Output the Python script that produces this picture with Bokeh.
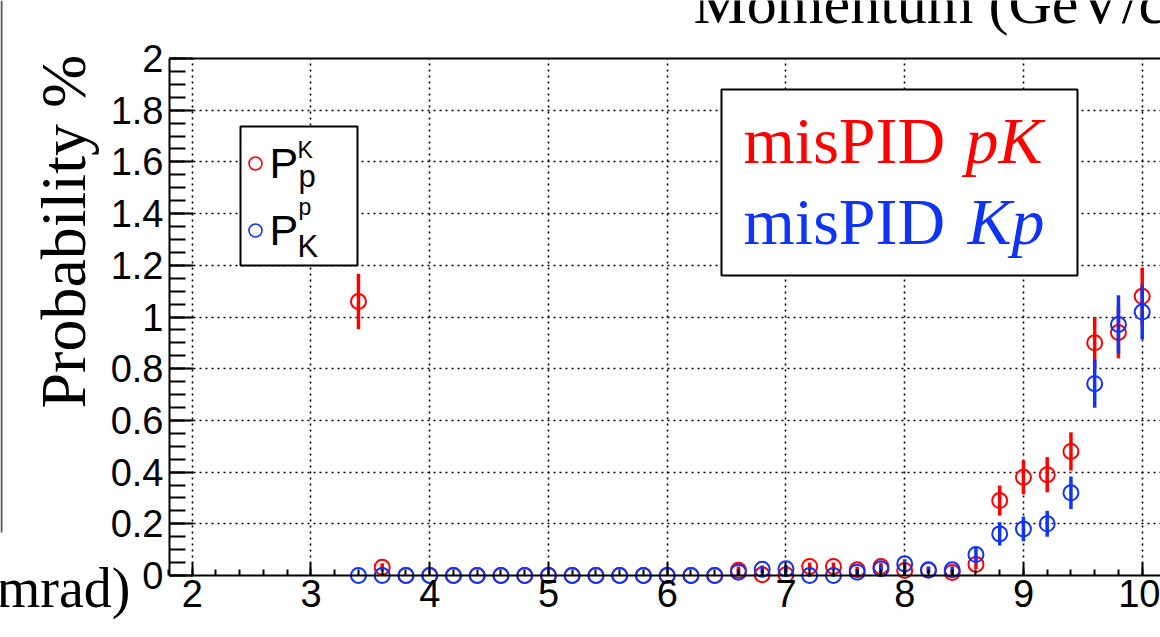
import numpy as np
from bokeh.plotting import figure
from bokeh.models import (Range1d, FixedTicker, LinearAxis, Grid, ColumnDataSource,
                          BoxAnnotation, Label)
from bokeh.embed import file_html
from bokeh.resources import INLINE

# ---- data: mis-identification probability (%) vs momentum (GeV/c) ----
momentum = [3.4, 3.6, 3.8, 4.0, 4.2, 4.4, 4.6, 4.8, 5.0, 5.2, 5.4, 5.6, 5.8, 6.0,
            6.2, 6.4, 6.6, 6.8, 7.0, 7.2, 7.4, 7.6, 7.8, 8.0, 8.2, 8.4, 8.6, 8.8,
            9.0, 9.2, 9.4, 9.6, 9.8, 10.0]

# proton identified as kaon
prob_pK = [1.06, 0.032, 0, 0, 0, 0, 0, 0, 0, 0, 0, 0, 0, 0,
           0, 0, 0.02, 0.003, 0.003, 0.035, 0.035, 0.022, 0.035, 0.019, 0.02, 0.012, 0.043, 0.29,
           0.38, 0.39, 0.48, 0.90, 0.94, 1.08]
err_pK = [0.107, 0.015, 0, 0, 0, 0, 0, 0, 0, 0, 0, 0, 0, 0,
          0, 0, 0.015, 0.005, 0.005, 0.015, 0.015, 0.012, 0.015, 0.012, 0.012, 0.010, 0.018, 0.058,
          0.066, 0.068, 0.074, 0.100, 0.100, 0.110]

# kaon identified as proton
prob_Kp = [0, 0, 0, 0, 0, 0, 0, 0, 0, 0, 0, 0, 0, 0,
           0, 0, 0.013, 0.024, 0.026, 0.0, 0.0, 0.013, 0.026, 0.045, 0.022, 0.022, 0.081, 0.161,
           0.18, 0.20, 0.32, 0.742, 0.971, 1.019]
err_Kp = [0, 0, 0, 0, 0, 0, 0, 0, 0, 0, 0, 0, 0, 0,
          0, 0, 0.012, 0.015, 0.015, 0.005, 0.005, 0.012, 0.015, 0.018, 0.013, 0.013, 0.030, 0.045,
          0.048, 0.050, 0.063, 0.093, 0.113, 0.106]

x_ticks = [2, 3, 4, 5, 6, 7, 8, 9, 10]
x_tick_labels = ["2", "3", "4", "5", "6", "7", "8", "9", "10"]
y_ticks = [0, 0.2, 0.4, 0.6, 0.8, 1.0, 1.2, 1.4, 1.6, 1.8, 2.0]
y_tick_labels = ["0", "0.2", "0.4", "0.6", "0.8", "1", "1.2", "1.4", "1.6", "1.8", "2"]

RED = "#ff0000"
BLUE = "#1034f5"

# ---- canvas geometry ----
# The plotting frame covers the whole canvas; the axes are pinned to the
# box [X_LEFT, X_END] x [0, 2] so that titles in the margins are not clipped.
W, H = 1160, 637
PX_X2, PX_PER_X = 191.7, 118.75      # pixel column of momentum 2, pixels per GeV/c
PX_Y0, PX_PER_Y = 575.0, 258.5       # pixel row of probability 0, pixels per %
F_LEFT = 169                          # left edge of the axes box
BASE_SHIFT = 0.37                     # baseline correction, in em


def dx(px):
    return 2 + (px - PX_X2) / PX_PER_X


def dy(py):
    return (PX_Y0 - py) / PX_PER_Y


X_START, X_END = dx(0), dx(W)
Y_START, Y_END = dy(H), dy(0)
X_LEFT = dx(F_LEFT)

p = figure(width=W, height=H, x_range=Range1d(X_START, X_END), y_range=Range1d(Y_START, Y_END),
           output_backend="svg", toolbar_location=None, x_axis_type=None, y_axis_type=None,
           min_border=0)
p.outline_line_color = None
p.background_fill_color = "white"
p.border_fill_color = "white"

TICK_FONT = "Liberation Sans"
TICK_SIZE = "38px"

x_minor = [round(v, 1) for v in np.arange(1.8, 10.21, 0.2)]
xaxis = LinearAxis(ticker=FixedTicker(ticks=x_ticks, minor_ticks=x_minor),
                   fixed_location=0, bounds=(X_LEFT, X_END))
xaxis.major_label_overrides = dict(zip(x_ticks, x_tick_labels))
xaxis.axis_line_width = 2
xaxis.major_tick_in, xaxis.major_tick_out = 13, 0
xaxis.minor_tick_in, xaxis.minor_tick_out = 6, 0
xaxis.major_tick_line_width = 2
xaxis.minor_tick_line_width = 2
xaxis.major_label_standoff = 4
xaxis.major_label_text_font = TICK_FONT
xaxis.major_label_text_font_size = TICK_SIZE
xaxis.major_label_text_color = "black"
p.add_layout(xaxis, "below")

y_minor = [round(v, 2) for v in np.arange(0, 2.001, 0.05)]
yaxis = LinearAxis(ticker=FixedTicker(ticks=y_ticks, minor_ticks=y_minor),
                   fixed_location=X_LEFT, bounds=(0, 2))
yaxis.major_label_overrides = dict(zip(y_ticks, y_tick_labels))
yaxis.axis_line_width = 2
yaxis.major_tick_in, yaxis.major_tick_out = 24, 0
yaxis.minor_tick_in, yaxis.minor_tick_out = 16, 0
yaxis.major_tick_line_width = 2
yaxis.minor_tick_line_width = 2
yaxis.major_label_standoff = 6
yaxis.major_label_text_font = TICK_FONT
yaxis.major_label_text_font_size = TICK_SIZE
yaxis.major_label_text_color = "black"
p.add_layout(yaxis, "left")

# top edge of the axes box
top_axis = LinearAxis(ticker=FixedTicker(ticks=[]), fixed_location=2, bounds=(X_LEFT, X_END),
                      axis_line_width=2)
top_axis.major_label_text_font_size = "0px"
p.add_layout(top_axis, "above")

# dotted grid, limited to the axes box
xgrid = Grid(dimension=0, ticker=FixedTicker(ticks=x_ticks), grid_line_color="black",
             grid_line_dash="2 4", grid_line_width=1.6)
ygrid = Grid(dimension=1, ticker=FixedTicker(ticks=y_ticks[1:-1]), grid_line_color="black",
             grid_line_dash="2 4", grid_line_width=1.6)
xgrid.cross_bounds = (0, 2)
ygrid.cross_bounds = (X_LEFT, X_END)
p.add_layout(xgrid)
p.add_layout(ygrid)


def draw_series(vals, errs, color):
    src = ColumnDataSource(dict(
        x=momentum, y=vals,
        lo=[v - e for v, e in zip(vals, errs)],
        hi=[v + e for v, e in zip(vals, errs)]))
    p.segment(x0="x", y0="lo", x1="x", y1="hi", source=src, line_color=color, line_width=3.5)
    p.scatter(x="x", y="y", source=src, marker="circle", size=15, fill_alpha=0,
              line_color=color, line_width=2)


draw_series(prob_pK, err_pK, RED)
draw_series(prob_Kp, err_Kp, BLUE)

# ---- legend boxes ----
for l, r, t, b in [(240, 357, 126, 265), (721, 1077, 89, 275)]:
    p.add_layout(BoxAnnotation(left=dx(l), right=dx(r), top=dy(t), bottom=dy(b),
                               fill_color="white", fill_alpha=1, line_color="black",
                               line_alpha=1, line_width=2))

sym = p.scatter(x=[dx(255), dx(255)], y=[dy(163), dy(230)], marker="circle", size=13,
                fill_alpha=0, line_color=[RED, BLUE], line_width=1.6)
sym.level = "overlay"


def label(text, px, py, size, font=TICK_FONT, color="black", style="normal",
          align="left", rotated=False):
    """Place text with its baseline at pixel (px, py) of the canvas."""
    shift = BASE_SHIFT * size
    if rotated:
        x, y, angle = dx(px - shift), dy(py), np.pi / 2
    else:
        x, y, angle = dx(px), dy(py - shift), 0.0
    p.add_layout(Label(x=x, y=y, text=text, text_font=font,
                       text_font_size=f"{size}px", text_color=color, text_font_style=style,
                       text_align=align, text_baseline="alphabetic", angle=angle))


# P_p^K and P_K^p
label("P", 269, 178, 43)
label("K", 297, 158, 23)
label("p", 298, 187, 31)
label("P", 269, 245, 43)
label("p", 298, 215, 23)
label("K", 297, 257, 31)

SERIF = "Liberation Serif"
label("misPID", 743, 164, 66, font=SERIF, color=RED)
label("pK", 965, 164, 66, font=SERIF, color=RED, style="italic")
label("misPID", 743, 245, 66, font=SERIF, color=BLUE)
label("Kp", 967, 245, 66, font=SERIF, color=BLUE, style="italic")

# axis titles in the margins
label("Probability %", 87, 408, 64, font=SERIF, rotated=True)
label("Momentum (GeV/c)", 693, 25, 60, font=SERIF)
label("(mrad)", 130, 608, 56, font=SERIF, align="right")

# edge of the neighbouring panel on the left
p.add_layout(BoxAnnotation(left=dx(0), right=dx(2), top=dy(0), bottom=dy(532),
                           fill_color="#555555", fill_alpha=1, line_color=None))

open("out.html", "w").write(file_html(p, INLINE))
